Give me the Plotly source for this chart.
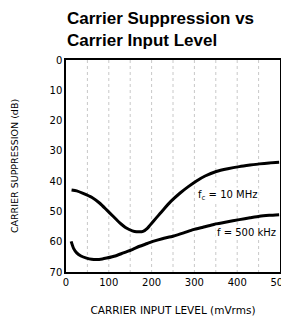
import plotly.graph_objects as go

x_10mhz = [13, 25, 40, 60, 79, 95, 110, 125, 141, 155, 165, 180, 190, 196, 210, 227, 245, 266, 285, 304, 325, 351, 378, 405, 430, 452, 475, 498]
y_10mhz = [42.9, 43.2, 44.0, 45.3, 47.3, 49.5, 51.6, 53.7, 55.5, 56.4, 56.7, 56.6, 55.6, 54.6, 52.3, 49.5, 46.7, 44.0, 41.9, 40.0, 38.3, 36.8, 35.9, 35.2, 34.7, 34.3, 34.0, 33.8]
x_500k = [12, 18, 25, 35, 48, 60, 71, 85, 95, 115, 134, 155, 172, 190, 203, 225, 250, 275, 297, 320, 343, 375, 405, 430, 452, 475, 498]
y_500k = [59.9, 62.3, 63.7, 64.7, 65.4, 65.8, 65.9, 65.7, 65.4, 64.7, 63.7, 62.6, 61.5, 60.6, 59.9, 59.0, 58.2, 57.1, 56.0, 55.2, 54.4, 53.5, 52.7, 52.1, 51.6, 51.3, 51.1]
x_ticks = [0, 100, 200, 300, 400, 500]
y_ticks = [0, 10, 20, 30, 40, 50, 60, 70]

fig = go.Figure()
fig.add_trace(go.Scatter(x=x_10mhz, y=y_10mhz, mode="lines", line=dict(color="black", width=3, shape="spline", smoothing=0.6), showlegend=False))
fig.add_trace(go.Scatter(x=x_500k, y=y_500k, mode="lines", line=dict(color="black", width=3, shape="spline", smoothing=0.6), showlegend=False))

fig.add_annotation(x=378, y=44.6, text="f<sub>c</sub> = 10 MHz", showarrow=False, xanchor="center", yanchor="middle",
                   font=dict(family="DejaVu Sans", size=10, color="black"), bgcolor="white")
fig.add_annotation(x=421, y=56.8, text="f = 500 kHz", showarrow=False, xanchor="center", yanchor="middle",
                   font=dict(family="DejaVu Sans", size=10, color="black"), bgcolor="white")

fig.add_annotation(xref="paper", yref="paper", x=0.0, y=1.0, yshift=52, xanchor="left", yanchor="top", align="left",
                   text="<b>Carrier Suppression vs<br>Carrier Input Level</b>", showarrow=False, borderpad=0,
                   font=dict(family="Liberation Sans", size=17, color="black"))

fig.update_layout(
    width=281, height=318,
    margin=dict(l=58, r=9, t=52, b=54),
    paper_bgcolor="white", plot_bgcolor="white",
    font=dict(family="DejaVu Sans", color="black"),
)
fig.update_xaxes(range=[0, 500], tickmode="array", tickvals=x_ticks, showline=True, linecolor="black", linewidth=1.5, mirror=True,
                 showgrid=False, automargin=False, ticklabeloverflow="allow",
                 tickfont=dict(size=10), ticks="", zeroline=False,
                 title=dict(text="CARRIER INPUT LEVEL (mVrms)", font=dict(size=10.5), standoff=20))
fig.update_yaxes(range=[70, 0], tickmode="array", tickvals=y_ticks, showline=True, linecolor="black", linewidth=1.5, mirror=True,
                 showgrid=False, automargin=False, tickfont=dict(size=10), ticks="", zeroline=False,
                 title=dict(text="CARRIER SUPPRESSION (dB)", font=dict(size=9.5), standoff=29))

grid_x = [50, 100, 150, 200, 250, 300, 350, 400, 450]
for gx in grid_x:
    fig.add_shape(type="line", xref="x", yref="y", x0=gx, x1=gx, y0=0, y1=70, layer="below",
                  line=dict(color="#c8c8c8", width=1, dash="dot"))

fig.write_html("out.html")
